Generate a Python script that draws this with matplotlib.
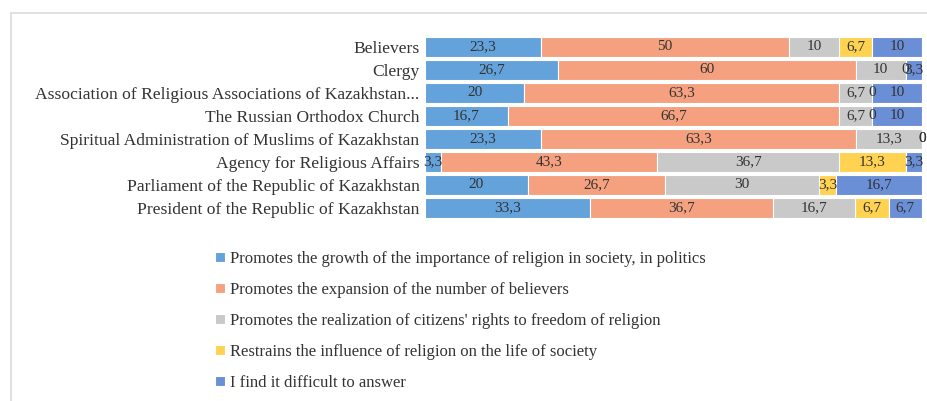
import numpy as np
import matplotlib
matplotlib.use('Agg')
import matplotlib.pyplot as plt
from matplotlib.patches import Rectangle

plt.rcParams['font.family'] = ['Liberation Serif', 'DejaVu Serif']

categorias = ['Believers', 'Clergy',
              'Association of Religious Associations of Kazakhstan...',
              'The Russian Orthodox Church',
              'Spiritual Administration of Muslims of Kazakhstan',
              'Agency for Religious Affairs',
              'Parliament of the Republic of Kazakhstan',
              'President of the Republic of Kazakhstan']

series = ['Promotes the growth of the importance of religion in society, in politics',
          'Promotes the expansion of the number of believers',
          "Promotes the realization of citizens' rights to freedom of religion",
          'Restrains the influence of religion on the life of society',
          'I find it difficult to answer']

crescimento = [23.3, 26.7, 20, 16.7, 23.3, 3.3, 20, 33.3]
expansao = [50, 60, 63.3, 66.7, 63.3, 43.3, 26.7, 36.7]
liberdade = [10, 10, 6.7, 6.7, 13.3, 36.7, 30, 16.7]
restringe = [6.7, 0, 0, 0, 0, 13.3, 3.3, 6.7]
dificil = [10, 3.3, 10, 10, 0, 3.3, 16.7, 6.7]

cores = ['#64A2DB', '#F5A17F', '#C9C9C9', '#FFD351', '#6B8FD6']

dados = np.array([crescimento, expansao, liberdade, restringe, dificil])
# grafico 100% empilhado, como no Excel
perc = dados / dados.sum(axis=0) * 100

fig = plt.figure(figsize=(9.28, 4.01), dpi=100)
ax = fig.add_axes([0.458, 0.4526, 0.5355, 0.459])

y = np.arange(len(categorias))
esquerda = np.zeros(len(categorias))
for i in range(len(series)):
    ax.barh(y, perc[i], left=esquerda, height=0.87, color=cores[i],
            edgecolor='white', linewidth=0.8, label=series[i])
    for j in range(len(categorias)):
        txt = ('%g' % dados[i, j]).replace('.', ',')
        ax.text(esquerda[j] + perc[i, j] / 2, y[j], txt, ha='center',
                va='center', fontsize=11, color='#333333')
    esquerda += perc[i]

ax.set_xlim(0, 100)
ax.set_ylim(len(categorias) - 0.5, -0.5)
ax.set_yticks(y)
ax.set_yticklabels(categorias, fontsize=12.6, color='#333333')
ax.tick_params(axis='y', length=0, pad=4)
ax.set_xticks([])
for s in ax.spines.values():
    s.set_visible(False)

fig.legend(loc='upper left', bbox_to_anchor=(200 / 928, 1 - 236 / 401),
           frameon=False, fontsize=12, labelspacing=0.9,
           handlelength=0.6, handleheight=0.6, handletextpad=0.3,
           labelcolor='#333333')

fig.patches.append(Rectangle((11 / 928, -0.05), 1.2, 1 - 13 / 401 + 0.05,
                             transform=fig.transFigure, fill=False,
                             edgecolor='#DADADA', linewidth=1.2))

fig.savefig('out.png', dpi=100)
